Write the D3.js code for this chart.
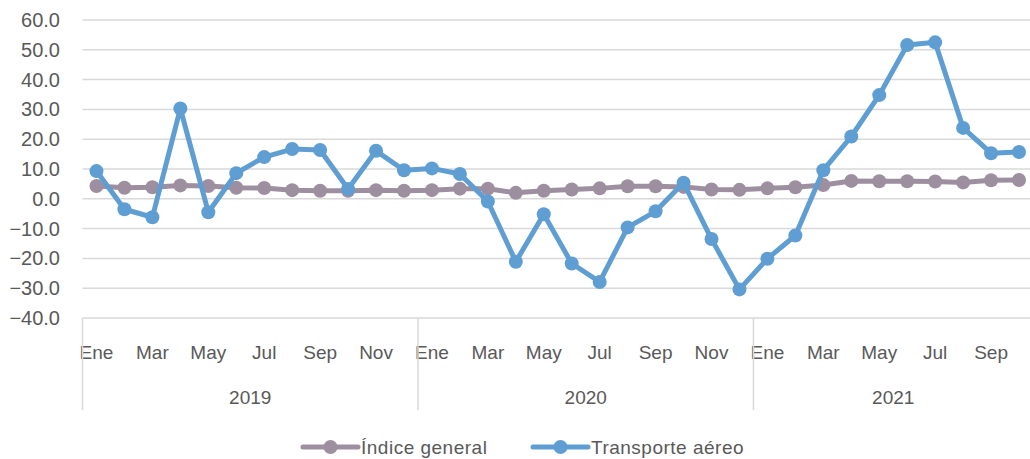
<!DOCTYPE html>
<html>
<head>
<meta charset="utf-8">
<script src="https://cdn.jsdelivr.net/npm/d3@7"></script>
<style>
  body { margin: 0; background: #fff; }
  text { font-family: "Liberation Sans", Arial, sans-serif; fill: #595959; }
</style>
</head>
<body>
<div id="chart"></div>
<script>
var monthNames = ["Ene", "Feb", "Mar", "Abr", "May", "Jun", "Jul", "Ago", "Sep", "Oct", "Nov", "Dic"];
var years = ["2019", "2020", "2021"];
var monthsPerYear = [12, 12, 10];
var yTicks = [-40, -30, -20, -10, 0, 10, 20, 30, 40, 50, 60];

var indiceGeneral = [4.3, 3.7, 3.9, 4.5, 4.3, 3.7, 3.6, 2.9, 2.7, 2.7, 2.9, 2.7,
                     2.9, 3.4, 3.4, 2.0, 2.7, 3.1, 3.5, 4.2, 4.2, 4.0, 3.1, 3.0,
                     3.5, 3.9, 4.6, 6.0, 5.9, 5.9, 5.8, 5.5, 6.2, 6.3];
var transporteAereo = [9.3, -3.5, -6.2, 30.3, -4.5, 8.6, 14.0, 16.7, 16.4, 3.3, 16.1, 9.6,
                       10.2, 8.3, -0.9, -21.1, -5.2, -21.7, -27.9, -9.6, -4.2, 5.4, -13.5, -30.4,
                       -20.1, -12.3, 9.6, 20.9, 34.8, 51.6, 52.5, 23.8, 15.3, 15.7];

var seriesNames = ["Índice general", "Transporte aéreo"];
var seriesColors = ["#9e8fa0", "#5f9ed3"];

function drawChart() {
    // build the category list (one per month)
    var cats = [];
    years.forEach(function (yr, yi) {
        for (var m = 0; m < monthsPerYear[yi]; m++) {
            cats.push({key: yr + "-" + m, year: yr, month: monthNames[m], m: m});
        }
    });

    var W = 1030, H = 459;
    var margin = {left: 82.5, right: 1033, top: 20, bottom: 318};

    var svg = d3.select("#chart").append("svg")
        .attr("width", W).attr("height", H);

    var x = d3.scaleBand()
        .domain(cats.map(function (d) { return d.key; }))
        .range([margin.left, margin.right])
        .padding(0);

    var y = d3.scaleLinear()
        .domain([-40, 60])
        .range([margin.bottom, margin.top]);

    // gridlines
    svg.append("g").selectAll("line")
        .data(yTicks)
        .enter().append("line")
        .attr("x1", margin.left).attr("x2", margin.right)
        .attr("y1", function (d) { return y(d); })
        .attr("y2", function (d) { return y(d); })
        .attr("stroke", "#d9d9d9")
        .attr("stroke-width", 1.5);

    // y labels
    svg.append("g").selectAll("text")
        .data(yTicks)
        .enter().append("text")
        .attr("x", 60)
        .attr("y", function (d) { return y(d); })
        .attr("dy", "0.35em")
        .attr("text-anchor", "end")
        .style("font-size", "20px")
        .text(function (d) { return d3.format(".1f")(d); });

    // month labels (every other month)
    svg.append("g").selectAll("text")
        .data(cats.filter(function (d) { return d.m % 2 === 0; }))
        .enter().append("text")
        .attr("x", function (d) { return x(d.key) + x.bandwidth() / 2; })
        .attr("y", 352)
        .attr("dy", "0.35em")
        .attr("text-anchor", "middle")
        .style("font-size", "19px")
        .text(function (d) { return d.month; });

    // year separators and labels
    var yearGroups = [], idx = 0;
    years.forEach(function (yr, yi) {
        yearGroups.push({year: yr, first: cats[idx].key});
        idx += monthsPerYear[yi];
    });

    svg.append("g").selectAll("line")
        .data(yearGroups)
        .enter().append("line")
        .attr("x1", function (d) { return x(d.first); })
        .attr("x2", function (d) { return x(d.first); })
        .attr("y1", margin.bottom).attr("y2", 410)
        .attr("stroke", "#d9d9d9")
        .attr("stroke-width", 1.5);

    svg.append("g").selectAll("text")
        .data(yearGroups)
        .enter().append("text")
        .attr("x", function (d) { return (x(d.first) + Math.min(x(d.first) + 12 * x.step(), margin.right)) / 2; })
        .attr("y", 397)
        .attr("dy", "0.35em")
        .attr("text-anchor", "middle")
        .style("font-size", "19px")
        .text(function (d) { return d.year; });

    // lines + markers
    var allSeries = [indiceGeneral, transporteAereo];
    var line = d3.line()
        .x(function (d, i) { return x(cats[i].key) + x.bandwidth() / 2; })
        .y(function (d) { return y(d); });

    allSeries.forEach(function (vals, si) {
        var g = svg.append("g");
        g.append("path")
            .datum(vals)
            .attr("d", line)
            .attr("fill", "none")
            .attr("stroke", seriesColors[si])
            .attr("stroke-width", 5)
            .attr("stroke-linejoin", "round");
        g.selectAll("circle")
            .data(vals)
            .enter().append("circle")
            .attr("cx", function (d, i) { return x(cats[i].key) + x.bandwidth() / 2; })
            .attr("cy", function (d) { return y(d); })
            .attr("r", 7)
            .attr("fill", seriesColors[si]);
    });

    // legend
    var legendX = [303, 533];
    var legend = svg.selectAll(".legend")
        .data(seriesNames)
        .enter().append("g")
        .attr("class", "legend")
        .attr("transform", function (d, i) { return "translate(" + legendX[i] + ",447)"; });

    legend.append("line")
        .attr("x1", 0).attr("x2", 55)
        .attr("y1", 0).attr("y2", 0)
        .attr("stroke", function (d, i) { return seriesColors[i]; })
        .attr("stroke-width", 5)
        .attr("stroke-linecap", "round");

    legend.append("circle")
        .attr("cx", 27.5).attr("cy", 0).attr("r", 7)
        .attr("fill", function (d, i) { return seriesColors[i]; });

    legend.append("text")
        .attr("x", 58)
        .attr("y", 0)
        .attr("dy", "0.35em")
        .style("font-size", "19px")
        .style("letter-spacing", "0.5px")
        .text(function (d) { return d; });
}

drawChart();
</script>
</body>
</html>
